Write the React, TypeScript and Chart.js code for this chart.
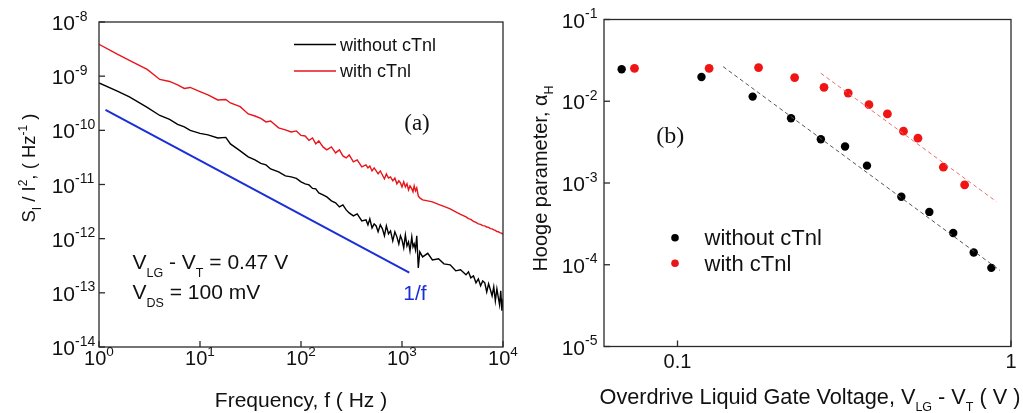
import React, { useEffect, useRef } from 'react';
import { Chart, registerables } from 'chart.js';

Chart.register(...registerables);

// ---------- Panel (a): noise spectra ----------
const freqHz = [
  1, 1.5, 2, 3, 4, 5, 6, 7, 8, 10,
  12, 15, 18, 20, 25, 30, 35, 40, 45, 50,
  60, 70, 80, 90, 100, 110, 120, 130, 140, 150,
  165, 180, 200, 220, 240, 260, 280, 300, 330, 360,
  400, 440, 460, 480, 505, 530, 555, 580, 610, 640,
  670, 700, 735, 770, 810, 850, 890, 930, 965, 1000,
  1040, 1080, 1120, 1160, 1200, 1250, 1285, 1320, 1360, 1400,
  1450, 1500, 1600, 1800, 2000, 2300, 2600, 3000, 3400, 3800,
  4300, 4550, 4800, 5100, 5400, 5700, 6000, 6300, 6600, 6900,
  7200, 7500, 7800, 8100, 8400, 8700, 9000, 9250, 9500, 9750,
  10000,
];

const noiseWithout = [
  7.49e-10, 5.33e-10, 4.13e-10, 2.65e-10, 1.88e-10, 1.59e-10, 1.29e-10, 1.16e-10, 9.96e-11, 8.77e-11,
  8.23e-11, 7.24e-11, 7.40e-11, 5.61e-11, 4.17e-11, 3.23e-11, 2.84e-11, 2.45e-11, 2.30e-11, 1.94e-11,
  1.71e-11, 1.44e-11, 1.38e-11, 1.30e-11, 1.12e-11, 1.03e-11, 9.83e-12, 8.47e-12, 8.30e-12, 7.00e-12,
  6.43e-12, 5.90e-12, 4.98e-12, 4.58e-12, 3.86e-12, 4.20e-12, 3.40e-12, 2.99e-12, 2.63e-12, 2.87e-12,
  2.13e-12, 2.22e-12, 1.80e-12, 2.32e-12, 1.58e-12, 1.88e-12, 1.72e-12, 1.34e-12, 1.80e-12, 1.52e-12,
  1.13e-12, 1.72e-12, 1.23e-12, 1.39e-12, 9.11e-13, 1.34e-12, 1.08e-12, 8.02e-13, 1.13e-12, 9.50e-13,
  6.77e-13, 1.17e-12, 7.36e-13, 8.73e-13, 5.96e-13, 1.08e-12, 7.06e-13, 8.02e-13, 6.22e-13, 1.13e-12,
  2.89e-13, 5.71e-13, 4.61e-13, 5.36e-13, 4.06e-13, 4.24e-13, 3.43e-13, 3.29e-13, 2.55e-13, 2.66e-13,
  2.15e-13, 2.44e-13, 1.89e-13, 2.06e-13, 1.53e-13, 1.81e-13, 1.35e-13, 1.66e-13, 1.53e-13, 1.04e-13,
  1.47e-13, 1.14e-13, 8.81e-14, 1.29e-13, 7.12e-14, 1.19e-13, 8.09e-14, 6.01e-14, 1.09e-13, 4.66e-14,
  7.82e-14,
];

const noiseWith = [
  3.88e-9, 2.57e-9, 1.95e-9, 1.33e-9, 8.69e-10, 7.98e-10, 6.88e-10, 5.93e-10, 6.19e-10, 5.18e-10,
  4.50e-10, 3.64e-10, 3.72e-10, 3.20e-10, 2.74e-10, 2.01e-10, 1.84e-10, 1.66e-10, 1.43e-10, 1.49e-10,
  1.11e-10, 1.02e-10, 9.34e-11, 9.75e-11, 8.05e-11, 7.88e-11, 6.51e-11, 7.24e-11, 5.61e-11, 6.37e-11,
  4.94e-11, 4.35e-11, 4.94e-11, 3.83e-11, 4.35e-11, 3.37e-11, 3.10e-11, 3.52e-11, 2.61e-11, 2.84e-11,
  2.11e-11, 2.30e-11, 2.02e-11, 2.20e-11, 1.78e-11, 2.02e-11, 1.78e-11, 1.57e-11, 1.78e-11, 1.50e-11,
  1.27e-11, 1.57e-11, 1.32e-11, 1.38e-11, 1.17e-11, 1.32e-11, 1.03e-11, 1.17e-11, 1.07e-11, 9.03e-12,
  1.12e-11, 9.03e-12, 1.03e-11, 7.95e-12, 9.42e-12, 8.30e-12, 7.30e-12, 9.42e-12, 7.62e-12, 8.66e-12,
  6.16e-12, 5.66e-12, 5.20e-12, 4.98e-12, 4.78e-12, 4.29e-12, 3.94e-12, 3.55e-12, 3.12e-12, 2.81e-12,
  2.52e-12, 2.34e-12, 2.27e-12, 2.09e-12, 2.00e-12, 1.88e-12, 1.84e-12, 1.74e-12, 1.72e-12, 1.64e-12,
  1.62e-12, 1.53e-12, 1.52e-12, 1.45e-12, 1.42e-12, 1.35e-12, 1.34e-12, 1.29e-12, 1.28e-12, 1.25e-12,
  1.20e-12,
];

const oneOverFFreq = [1.16, 1181];
const oneOverFNoise = [2.38e-10, 2.37e-13];

const freqTicks = [1, 10, 100, 1000, 10000];
const freqTickExp = ['0', '1', '2', '3', '4'];
const noiseTicks = [1e-8, 1e-9, 1e-10, 1e-11, 1e-12, 1e-13, 1e-14];
const noiseTickExp = ['-8', '-9', '-10', '-11', '-12', '-13', '-14'];

// ---------- Panel (b): Hooge parameter ----------
const vodWithout = [0.068, 0.118, 0.168, 0.219, 0.269, 0.318, 0.370, 0.469, 0.569, 0.671, 0.773, 0.873];
const hoogeWithout = [0.0246, 0.0198, 0.0114, 0.0062, 0.00343, 0.00279, 0.00163, 0.00068, 0.000443, 0.000245, 0.000141, 0.0000916];
const vodWith = [0.0743, 0.1244, 0.175, 0.2245, 0.275, 0.325, 0.375, 0.426, 0.476, 0.526, 0.627, 0.726];
const hoogeWith = [0.0253, 0.0253, 0.0258, 0.0195, 0.0148, 0.0126, 0.00908, 0.0070, 0.0043, 0.00353, 0.00156, 0.00095];
const fitWithoutX = [0.137, 0.927];
const fitWithoutY = [0.0265, 0.0000851];
const fitWithX = [0.269, 0.904];
const fitWithY = [0.022, 0.000593];

const vodTicks = [0.1, 1];
const vodTickLabels = ['0.1', '1'];
const hoogeTicks = [1e-1, 1e-2, 1e-3, 1e-4, 1e-5];
const hoogeTickExp = ['-1', '-2', '-3', '-4', '-5'];

// ---------- drawing helpers ----------
const SANS = '"Liberation Sans", Arial, sans-serif';
const SERIF = '"Liberation Serif", "Times New Roman", serif';
const AXIS_COLOR = '#2a2a2a';
const RED = '#e8151b';
const BLUE = '#1a2fd6';

type Seg = { t: string; s?: 'sub' | 'sup' };
type RichOpts = { fam?: string; subSize?: number; subDy?: number; supDy?: number };

function segFont(seg: Seg, size: number, fam: string, subSize: number) {
  return `${seg.s ? subSize : size}px ${fam}`;
}

function drawRich(
  ctx: CanvasRenderingContext2D,
  segs: Seg[],
  x: number,
  y: number,
  size: number,
  align: 'left' | 'center' | 'right',
  color: string,
  opts: RichOpts = {}
) {
  const fam = opts.fam || SANS;
  const subSize = opts.subSize || Math.round(size * 0.64);
  const subDy = opts.subDy ?? size * 0.33;
  const supDy = opts.supDy ?? -size * 0.42;
  let w = 0;
  for (const seg of segs) {
    ctx.font = segFont(seg, size, fam, subSize);
    w += ctx.measureText(seg.t).width;
  }
  let cx = align === 'left' ? x : align === 'center' ? x - w / 2 : x - w;
  ctx.fillStyle = color;
  ctx.textAlign = 'left';
  ctx.textBaseline = 'alphabetic';
  for (const seg of segs) {
    ctx.font = segFont(seg, size, fam, subSize);
    const dy = seg.s === 'sub' ? subDy : seg.s === 'sup' ? supDy : 0;
    ctx.fillText(seg.t, cx, y + dy);
    cx += ctx.measureText(seg.t).width;
  }
}

function drawRotated(
  ctx: CanvasRenderingContext2D,
  segs: Seg[],
  x: number,
  y: number,
  size: number,
  color: string,
  opts: RichOpts = {}
) {
  ctx.save();
  ctx.translate(x, y);
  ctx.rotate(-Math.PI / 2);
  drawRich(ctx, segs, 0, 0, size, 'center', color, opts);
  ctx.restore();
}

function drawFrame(chart: any) {
  const ctx: CanvasRenderingContext2D = chart.ctx;
  const a = chart.chartArea;
  ctx.save();
  ctx.strokeStyle = AXIS_COLOR;
  ctx.lineWidth = 1.3;
  ctx.strokeRect(a.left, a.top, a.right - a.left, a.bottom - a.top);
  ctx.restore();
}

function drawPow10Y(chart: any, ticks: number[], exps: string[], baseRight: number) {
  const ctx: CanvasRenderingContext2D = chart.ctx;
  const y = chart.scales.y;
  const a = chart.chartArea;
  ctx.save();
  ctx.strokeStyle = AXIS_COLOR;
  ctx.lineWidth = 1.3;
  ticks.forEach((v, i) => {
    const p = y.getPixelForValue(v);
    ctx.beginPath();
    ctx.moveTo(a.left, p);
    ctx.lineTo(a.left + 6, p);
    ctx.stroke();
    drawRich(ctx, [{ t: '10' }], baseRight, p + 8, 21, 'right', '#111');
    drawRich(ctx, [{ t: exps[i] }], baseRight, p - 1.5, 14, 'left', '#111');
  });
  ctx.restore();
}

function makePlugin(id: string, draw: (chart: any) => void) {
  return { id, afterDraw: (chart: any) => draw(chart) };
}

const panelA = makePlugin('panelA', (chart: any) => {
  const ctx: CanvasRenderingContext2D = chart.ctx;
  const a = chart.chartArea;
  const xs = chart.scales.x;
  drawFrame(chart);
  drawPow10Y(chart, noiseTicks, noiseTickExp, 75);
  ctx.save();
  ctx.strokeStyle = AXIS_COLOR;
  ctx.lineWidth = 1.3;
  freqTicks.forEach((v, i) => {
    const p = xs.getPixelForValue(v);
    ctx.beginPath();
    ctx.moveTo(p, a.bottom);
    ctx.lineTo(p, a.bottom - 6);
    ctx.stroke();
    drawRich(ctx, [{ t: '10' }, { t: freqTickExp[i], s: 'sup' }], p, 365, 20, 'center', '#111', { subSize: 13.5, supDy: -9 });
  });
  drawRich(ctx, [{ t: 'Frequency, f ( Hz )' }], 301, 407, 21, 'center', '#111');
  drawRotated(
    ctx,
    [{ t: 'S' }, { t: 'I', s: 'sub' }, { t: ' / I' }, { t: '2', s: 'sup' }, { t: ', ( Hz' }, { t: '-1', s: 'sup' }, { t: ' )' }],
    35, 168, 18.5, '#111', { subSize: 12, subDy: 6, supDy: -8 }
  );
  ctx.lineWidth = 1.6;
  ctx.strokeStyle = '#000';
  ctx.beginPath(); ctx.moveTo(294, 44.5); ctx.lineTo(336, 44.5); ctx.stroke();
  ctx.strokeStyle = RED;
  ctx.beginPath(); ctx.moveTo(294, 71); ctx.lineTo(336, 71); ctx.stroke();
  drawRich(ctx, [{ t: 'without cTnl' }], 340, 50.5, 18, 'left', '#111');
  drawRich(ctx, [{ t: 'with cTnl' }], 340, 77, 18, 'left', '#111');
  drawRich(ctx, [{ t: '(a)' }], 417, 130, 23, 'center', '#111', { fam: SERIF });
  drawRich(ctx, [{ t: 'V' }, { t: 'LG', s: 'sub' }, { t: ' - V' }, { t: 'T', s: 'sub' }, { t: ' = 0.47 V' }], 132.5, 268.5, 21, 'left', '#111', { subSize: 12.5, subDy: 8 });
  drawRich(ctx, [{ t: 'V' }, { t: 'DS', s: 'sub' }, { t: ' = 100 mV' }], 132.5, 298.5, 21, 'left', '#111', { subSize: 12.5, subDy: 8 });
  drawRich(ctx, [{ t: '1/f' }], 415, 300, 21, 'center', BLUE);
  ctx.restore();
});

const panelB = makePlugin('panelB', (chart: any) => {
  const ctx: CanvasRenderingContext2D = chart.ctx;
  const a = chart.chartArea;
  const xs = chart.scales.x;
  drawFrame(chart);
  drawPow10Y(chart, hoogeTicks, hoogeTickExp, 73);
  ctx.save();
  ctx.strokeStyle = AXIS_COLOR;
  ctx.lineWidth = 1.3;
  vodTicks.forEach((v, i) => {
    const p = xs.getPixelForValue(v);
    ctx.beginPath();
    ctx.moveTo(p, a.bottom);
    ctx.lineTo(p, a.bottom - 6);
    ctx.stroke();
    drawRich(ctx, [{ t: vodTickLabels[i] }], p, 368, 20, 'center', '#111');
  });
  drawRich(
    ctx,
    [{ t: 'Overdrive Liquid Gate Voltage, V' }, { t: 'LG', s: 'sub' }, { t: ' - V' }, { t: 'T', s: 'sub' }, { t: ' ( V )' }],
    298, 404, 21.7, 'center', '#111', { subSize: 12.5, subDy: 7 }
  );
  drawRotated(
    ctx,
    [{ t: 'Hooge parameter, \u03b1' }, { t: 'H', s: 'sub' }],
    35, 178.5, 20, '#111', { subSize: 12.5, subDy: 6 }
  );
  ctx.fillStyle = '#000';
  ctx.beginPath(); ctx.arc(163, 237.7, 3.8, 0, Math.PI * 2); ctx.fill();
  ctx.fillStyle = RED;
  ctx.beginPath(); ctx.arc(163, 263.3, 3.8, 0, Math.PI * 2); ctx.fill();
  drawRich(ctx, [{ t: 'without cTnl' }], 192.5, 245, 22, 'left', '#111');
  drawRich(ctx, [{ t: 'with cTnl' }], 192.5, 271, 22, 'left', '#111');
  drawRich(ctx, [{ t: '(b)' }], 158.3, 143, 24, 'center', '#111', { fam: SERIF });
  ctx.restore();
});

function pts(xs: number[], ys: number[]) {
  return xs.map((x, i) => ({ x, y: ys[i] }));
}

export default function App() {
  const refA = useRef<HTMLCanvasElement>(null);
  const refB = useRef<HTMLCanvasElement>(null);

  useEffect(() => {
    const common = {
      responsive: false,
      animation: false as const,
      devicePixelRatio: 1,
      events: [] as any[],
      plugins: { legend: { display: false }, tooltip: { enabled: false } },
    };

    const chartA = new Chart(refA.current as HTMLCanvasElement, {
      type: 'scatter',
      data: {
        datasets: [
          { data: pts(freqHz, noiseWithout), showLine: true, borderColor: '#000', borderWidth: 1.4, pointRadius: 0, tension: 0 },
          { data: pts(freqHz, noiseWith), showLine: true, borderColor: RED, borderWidth: 1.4, pointRadius: 0, tension: 0 },
          { data: pts(oneOverFFreq, oneOverFNoise), showLine: true, borderColor: BLUE, borderWidth: 2, pointRadius: 0 },
        ],
      },
      options: {
        ...common,
        layout: { padding: { left: 99, right: 37, top: 22, bottom: 66 } },
        scales: {
          x: { type: 'logarithmic', min: 1, max: 10000, display: false },
          y: { type: 'logarithmic', min: 1e-14, max: 1e-8, display: false },
        },
      },
      plugins: [panelA],
    } as any);

    const chartB = new Chart(refB.current as HTMLCanvasElement, {
      type: 'scatter',
      data: {
        datasets: [
          { data: pts(fitWithoutX, fitWithoutY), showLine: true, borderColor: '#555', borderWidth: 1, borderDash: [4, 3], pointRadius: 0 },
          { data: pts(fitWithX, fitWithY), showLine: true, borderColor: '#e97070', borderWidth: 1, borderDash: [4, 3], pointRadius: 0 },
          { data: pts(vodWithout, hoogeWithout), showLine: false, pointRadius: 4.2, backgroundColor: '#000', borderWidth: 0 },
          { data: pts(vodWith, hoogeWith), showLine: false, pointRadius: 4.4, backgroundColor: '#f01515', borderWidth: 0 },
        ],
      },
      options: {
        ...common,
        layout: { padding: { left: 92, right: 12, top: 19.5, bottom: 66.5 } },
        scales: {
          x: { type: 'logarithmic', min: 0.0602, max: 1, display: false },
          y: { type: 'logarithmic', min: 1e-5, max: 1e-1, display: false },
        },
      },
      plugins: [panelB],
    } as any);

    return () => {
      chartA.destroy();
      chartB.destroy();
    };
  }, []);

  return (
    <div style={{ position: 'fixed', left: 0, top: 0, width: 1023, height: 413, background: '#fff' }}>
      <canvas ref={refA} width={540} height={413} style={{ position: 'absolute', left: 0, top: 0, width: 540, height: 413 }} />
      <canvas ref={refB} width={511} height={413} style={{ position: 'absolute', left: 512, top: 0, width: 511, height: 413 }} />
    </div>
  );
}
